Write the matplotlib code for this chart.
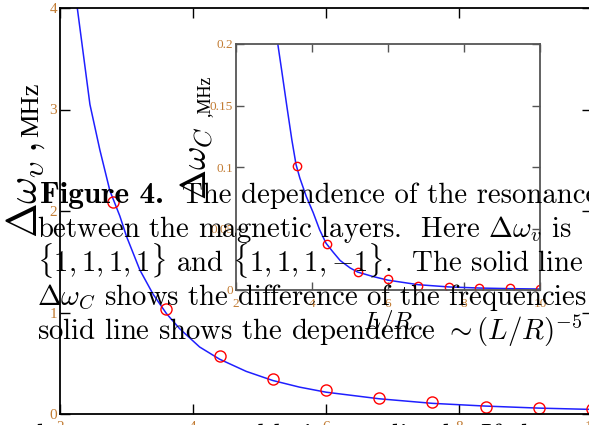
import matplotlib
matplotlib.use('Agg')  # no display
import matplotlib.pyplot as plt

W, H = 589, 425

# main plot: splitting of the resonance (MHz) vs L/R
main_x = [2.8, 3.6, 4.4, 5.2, 6.0, 6.8, 7.6, 8.4, 9.2, 10.0]
main_y = [2.09, 1.03, 0.57, 0.34, 0.236, 0.157, 0.118, 0.069, 0.059, 0.049]
main_fit_x = [2.26, 2.35, 2.45, 2.6, 2.75, 2.9, 3.0, 3.2, 3.4, 3.6, 3.8, 4.1,
              4.4, 4.8, 5.2, 5.6, 6.0, 6.8, 7.6, 8.4, 9.2, 10.0]
main_fit_y = [4.0, 3.55, 3.05, 2.6, 2.2, 1.95, 1.75, 1.42, 1.18, 0.99, 0.84, 0.66,
              0.54, 0.42, 0.33, 0.265, 0.215, 0.15, 0.105, 0.078, 0.058, 0.045]
main_yticks = [0, 1, 2, 3, 4]
xticks = [2, 4, 6, 8, 10]

# inset: delta omega_C
inset_x = [3.6, 4.4, 5.2, 6.0, 6.8, 7.6, 8.4, 9.2, 10.0]
inset_y = [0.101, 0.037, 0.0146, 0.0089, 0.0035, 0.0025, 0.0017, 0.0015, 0.0009]
inset_fit_x = [3.1, 3.2, 3.34, 3.47, 3.58, 3.68, 3.85, 4.03, 4.2, 4.37, 4.55,
               4.74, 5.0, 5.2, 5.6, 6.0, 6.8, 7.6, 8.4, 9.2, 10.0]
inset_fit_y = [0.2, 0.179, 0.149, 0.122, 0.102, 0.091, 0.076, 0.063, 0.049, 0.038,
               0.031, 0.024, 0.018, 0.0146, 0.011, 0.008, 0.0043, 0.0025, 0.0016,
               0.0011, 0.0008]
inset_yticks = [0, 0.05, 0.1, 0.15, 0.2]
inset_ytick_labels = ['0', '0.05', '0.1', '0.15', '0.2']

# caption lines that sit over the figure in the source page
caption_bold = 'Figure 4.'
caption_lines = [
    'The dependence of the resonance',
    r'between the magnetic layers.  Here $\Delta\omega_v$ is',
    r'$\{1,1,1,1\}$ and $\{1,1,1,{-}1\}$.  The solid line',
    r'$\Delta\omega_C$ shows the difference of the frequencies',
    r'solid line shows the dependence $\sim(L/R)^{-5}$',
]
body_line = 'becomes comparable in amplitude. If the'

plt.rcParams['font.family'] = 'Liberation Serif'
plt.rcParams['mathtext.fontset'] = 'cm'

tick_color = '#c27c34'
line_color = '#1f1fff'
cap_size = 20.7


def fx(px):
    return px / W


def fy(py):
    return 1 - py / H


fig = plt.figure(figsize=(W / 100, H / 100), dpi=100)

# main axes
ax = fig.add_axes([fx(60), fy(414), (592 - 60) / W, (414 - 8) / H])
ax.plot(main_fit_x, main_fit_y, color=line_color, lw=1.1)
ax.plot(main_x, main_y, 'o', mfc='none', mec='red', ms=8, mew=1)
ax.set_xlim(2, 10)
ax.set_ylim(0, 4)
ax.set_xticks(xticks)
ax.set_yticks(main_yticks)
ax.tick_params(direction='in', length=7, width=1, top=True, right=True,
               labelsize=11, labelcolor=tick_color)
ax.tick_params(axis='y', pad=2)
ax.tick_params(axis='x', pad=5)
for s in ax.spines.values():
    s.set_linewidth(1.3)

# inset axes
ins = fig.add_axes([fx(236), fy(290), (540 - 236) / W, (290 - 44) / H])
ins.plot(inset_fit_x, inset_fit_y, color=line_color, lw=1.1)
ins.plot(inset_x, inset_y, 'o', mfc='none', mec='red', ms=6, mew=1)
ins.set_xlim(2, 10)
ins.set_ylim(0, 0.2)
ins.set_xticks(xticks)
ins.set_yticks(inset_yticks)
ins.set_yticklabels(inset_ytick_labels)
ins.tick_params(direction='in', length=6, width=1, top=True, right=True,
                labelsize=9.5, labelcolor=tick_color, color='#555555')
ins.tick_params(axis='y', pad=2)
ins.tick_params(axis='x', pad=6)
for s in ins.spines.values():
    s.set_linewidth(1.3)
    s.set_color('#555555')
ins.set_xlabel('$L/R$', fontsize=18, labelpad=-2)

# y labels drawn as rotated texts
fig.text(fx(37), fy(238), r'$\Delta\omega_{\upsilon}\,,$', fontsize=30,
         rotation=90, rotation_mode='anchor', ha='left', va='baseline')
fig.text(fx(38), fy(137), 'MHz', fontsize=19,
         rotation=90, rotation_mode='anchor', ha='left', va='baseline')
fig.text(fx(207), fy(200), r'$\Delta\omega_{C}$', fontsize=26,
         rotation=90, rotation_mode='anchor', ha='left', va='baseline')
fig.text(fx(209), fy(117), ',MHz', fontsize=13,
         rotation=90, rotation_mode='anchor', ha='left', va='baseline')

# caption text over the plot
fig.text(fx(40), fy(203), caption_bold, fontsize=22.5, family='cmb10', va='baseline')
fig.text(fx(182), fy(203), caption_lines[0], fontsize=cap_size, family='cmr10',
         va='baseline')
baselines = [237, 271, 305, 339]
for line, b in zip(caption_lines[1:], baselines):
    fig.text(fx(37), fy(b), line, fontsize=cap_size, family='cmr10', va='baseline')
fig.text(fx(37), fy(444), body_line, fontsize=cap_size, family='cmr10', va='baseline')

fig.savefig('out.png', dpi=100)
